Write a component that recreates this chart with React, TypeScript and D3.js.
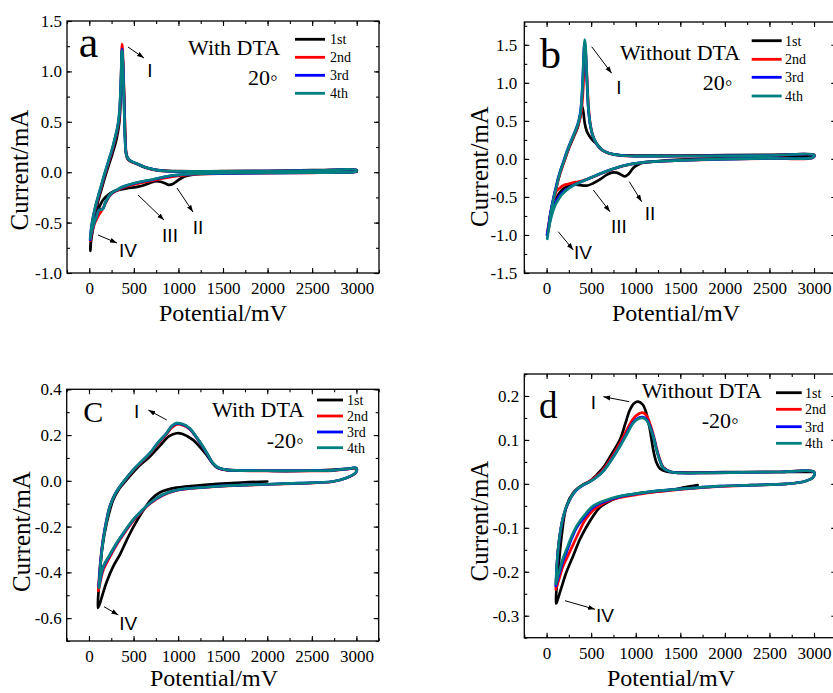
import React, { useEffect, useRef } from 'react';
import * as d3 from 'd3';

type Pt = [number, number];

const cycleNames = ['1st', '2nd', '3rd', '4th'];
const cycleColors = ['#000000', '#ff0000', '#0000ff', '#008080'];

const xTicks = [0, 500, 1000, 1500, 2000, 2500, 3000];
const aYTicks = [-1.0, -0.5, 0.0, 0.5, 1.0, 1.5];
const bYTicks = [-1.5, -1.0, -0.5, 0.0, 0.5, 1.0, 1.5];
const cYTicks = [-0.6, -0.4, -0.2, 0.0, 0.2, 0.4];
const dYTicks = [-0.3, -0.2, -0.1, 0.0, 0.1, 0.2];

// panel a: with DTA, 20°  [potential mV, current mA]
const a1st: Pt[] = [
    [3000, 0.005], [2500, 0.0], [2000, -0.004], [1500, -0.01], [1200, -0.02], [1100, -0.035], [1040, -0.055],
    [980, -0.09], [930, -0.12], [890, -0.125], [850, -0.11], [800, -0.095], [750, -0.09], [700, -0.1], [640, -0.12],
    [571, -0.14], [500, -0.15], [422, -0.16], [330, -0.175], [250, -0.2], [190, -0.24], [150, -0.28], [110, -0.35],
    [70, -0.45], [40, -0.57], [20, -0.68], [12, -0.78],
    [15, -0.7], [45, -0.5], [90, -0.32], [140, -0.16], [200, 0.02], [255, 0.17], [303, 0.32], [335, 0.48], [350, 0.68],
    [360, 0.95], [366, 1.2], [373, 1.15], [385, 0.9], [395, 0.6], [403, 0.35], [410, 0.2], [430, 0.13], [480, 0.1],
    [534, 0.085], [600, 0.055], [700, 0.03], [800, 0.018], [1000, 0.01], [1500, 0.01], [2000, 0.012], [2500, 0.02], [3000, 0.02],
];
const a2nd: Pt[] = [
    [12, -0.68], [25, -0.56], [41, -0.47], [63, -0.38], [86, -0.3], [111, -0.22], [137, -0.14], [166, -0.05], [196, 0.04],
    [224, 0.12], [249, 0.19], [274, 0.27], [297, 0.35], [317, 0.43], [333, 0.51], [345, 0.64], [354, 0.85], [361, 1.08],
    [366, 1.27], [371, 1.25], [378, 1.12], [387, 0.88], [396, 0.58], [404, 0.34], [412, 0.21], [424, 0.15], [455, 0.115],
    [495, 0.095], [540, 0.08], [600, 0.058], [680, 0.033], [760, 0.018], [850, 0.01], [1000, 0.007], [1250, 0.007],
    [1500, 0.008], [2000, 0.011], [2500, 0.015], [3000, 0.019],
    [2985, 0.003], [2800, -0.003], [2500, -0.006], [2000, -0.009], [1500, -0.013], [1250, -0.018], [1094, -0.027],
    [950, -0.042], [820, -0.062], [720, -0.082], [600, -0.102], [500, -0.122], [422, -0.14], [360, -0.16], [310, -0.183],
    [260, -0.208], [225, -0.24], [198, -0.28], [170, -0.33], [140, -0.38], [110, -0.42], [85, -0.46], [60, -0.51],
    [40, -0.56], [22, -0.62], [12, -0.68],
];
const a3rd: Pt[] = [
    [10, -0.67], [22, -0.56], [37, -0.475], [58, -0.385], [80, -0.305], [105, -0.225], [131, -0.145], [160, -0.055],
    [190, 0.035], [218, 0.115], [243, 0.185], [268, 0.265], [291, 0.345], [312, 0.425], [329, 0.51], [341, 0.62],
    [351, 0.8], [359, 1.0], [365, 1.2], [370, 1.22], [376, 1.12], [384, 0.9], [393, 0.6], [401, 0.35], [409, 0.22],
    [421, 0.16], [450, 0.12], [490, 0.1], [534, 0.085], [600, 0.06], [680, 0.035], [760, 0.02], [850, 0.012],
    [1000, 0.008], [1250, 0.008], [1500, 0.009], [2000, 0.012], [2500, 0.016], [3000, 0.02],
    [2985, 0.004], [2800, -0.002], [2500, -0.005], [2000, -0.008], [1500, -0.011], [1250, -0.015], [1094, -0.021],
    [950, -0.032], [820, -0.052], [720, -0.072], [600, -0.092], [500, -0.112], [422, -0.132], [360, -0.152],
    [310, -0.177], [260, -0.202], [225, -0.232], [198, -0.272], [175, -0.312], [160, -0.352], [140, -0.368],
    [120, -0.37], [104, -0.38], [85, -0.43], [60, -0.49], [40, -0.545], [22, -0.6], [10, -0.67],
];
const a4th: Pt[] = [
    [10, -0.66], [22, -0.56], [37, -0.47], [58, -0.38], [80, -0.3], [105, -0.22], [131, -0.14], [160, -0.05], [190, 0.04],
    [218, 0.12], [243, 0.19], [268, 0.27], [291, 0.35], [312, 0.43], [328, 0.51], [340, 0.62], [350, 0.8], [358, 1.0],
    [364, 1.19], [369, 1.21], [375, 1.12], [383, 0.9], [392, 0.6], [400, 0.35], [408, 0.22], [420, 0.16], [450, 0.12],
    [490, 0.1], [534, 0.085], [600, 0.06], [680, 0.035], [760, 0.02], [850, 0.012], [1000, 0.008], [1250, 0.008],
    [1500, 0.009], [2000, 0.012], [2500, 0.016], [3000, 0.02],
    [2985, 0.004], [2800, -0.002], [2500, -0.005], [2000, -0.007], [1500, -0.01], [1250, -0.014], [1094, -0.02],
    [950, -0.03], [820, -0.05], [720, -0.07], [600, -0.09], [500, -0.11], [422, -0.13], [360, -0.15], [310, -0.175],
    [260, -0.2], [225, -0.23], [198, -0.27], [175, -0.31], [160, -0.355], [140, -0.37], [120, -0.372], [104, -0.38],
    [85, -0.43], [60, -0.49], [40, -0.54], [22, -0.6], [10, -0.66],
];

// panel b: without DTA, 20°
const b1st: Pt[] = [
    [3000, 0.03], [2500, 0.02], [2000, 0.01], [1500, -0.01], [1200, -0.035], [1084, -0.05], [1020, -0.08], [972, -0.12],
    [920, -0.2], [879, -0.23], [840, -0.21], [785, -0.18], [730, -0.18], [673, -0.21], [600, -0.27], [523, -0.32],
    [460, -0.35], [411, -0.35], [330, -0.34], [262, -0.35], [200, -0.38], [149, -0.44], [110, -0.52], [74, -0.62],
    [40, -0.8], [15, -0.97],
    [40, -0.75], [80, -0.52], [120, -0.32], [160, -0.15], [200, -0.02], [250, 0.14], [300, 0.28], [350, 0.42],
    [380, 0.57], [398, 0.69], [412, 0.62], [428, 0.47], [449, 0.37], [480, 0.3], [520, 0.24], [561, 0.2], [620, 0.12],
    [700, 0.075], [822, 0.05], [1000, 0.045], [1500, 0.045], [2000, 0.05], [2500, 0.055], [3000, 0.055],
];
const b2nd: Pt[] = [
    [6, -1.0], [20, -0.9], [38, -0.76], [57, -0.64], [77, -0.53], [98, -0.43], [116, -0.35], [135, -0.26], [155, -0.18],
    [192, -0.05], [245, 0.13], [304, 0.3], [356, 0.45], [387, 0.6], [405, 0.82], [418, 1.1], [427, 1.35], [432, 1.45],
    [439, 1.38], [450, 1.15], [461, 0.88], [473, 0.64], [493, 0.44], [518, 0.31], [564, 0.19], [622, 0.115], [700, 0.072],
    [822, 0.046], [1000, 0.036], [1500, 0.037], [2000, 0.04], [2500, 0.044], [3000, 0.05],
    [2990, 0.018], [2500, 0.006], [2000, -0.004], [1500, -0.02], [1270, -0.032], [1084, -0.047], [960, -0.067],
    [860, -0.092], [750, -0.132], [635, -0.182], [520, -0.237], [411, -0.285], [350, -0.3], [299, -0.31], [240, -0.33],
    [187, -0.35], [140, -0.39], [112, -0.42], [90, -0.5], [65, -0.62], [40, -0.76], [18, -0.9], [6, -1.0],
];
const b3rd: Pt[] = [
    [5, -1.0], [18, -0.92], [35, -0.78], [53, -0.65], [72, -0.54], [93, -0.43], [110, -0.35], [128, -0.26], [148, -0.18],
    [185, -0.05], [238, 0.13], [297, 0.3], [348, 0.45], [378, 0.6], [397, 0.85], [409, 1.15], [419, 1.43], [427, 1.53],
    [435, 1.46], [446, 1.2], [457, 0.9], [469, 0.65], [489, 0.45], [514, 0.32], [560, 0.2], [620, 0.12], [700, 0.075],
    [822, 0.048], [1000, 0.037], [1500, 0.038], [2000, 0.04], [2500, 0.045], [3000, 0.05],
    [2990, 0.02], [2500, 0.008], [2000, -0.003], [1500, -0.019], [1270, -0.031], [1084, -0.046], [960, -0.066],
    [860, -0.09], [750, -0.13], [635, -0.18], [520, -0.235], [411, -0.29], [300, -0.345], [224, -0.4], [170, -0.45],
    [130, -0.51], [100, -0.57], [74, -0.64], [45, -0.76], [20, -0.9], [5, -1.0],
];
const b4th: Pt[] = [
    [8, -1.05], [20, -0.95], [37, -0.8], [55, -0.66], [74, -0.55], [95, -0.44], [112, -0.36], [130, -0.27], [150, -0.18],
    [187, -0.05], [240, 0.13], [299, 0.3], [350, 0.45], [380, 0.6], [398, 0.85], [410, 1.15], [420, 1.45], [428, 1.57],
    [436, 1.5], [447, 1.22], [458, 0.92], [470, 0.66], [490, 0.45], [515, 0.32], [561, 0.2], [620, 0.12], [700, 0.075],
    [822, 0.048], [1000, 0.037], [1500, 0.038], [2000, 0.04], [2500, 0.045], [3000, 0.05],
    [2990, 0.02], [2500, 0.008], [2000, -0.002], [1500, -0.018], [1270, -0.03], [1084, -0.045], [960, -0.065],
    [860, -0.09], [750, -0.13], [635, -0.18], [520, -0.235], [411, -0.29], [300, -0.35], [224, -0.41], [170, -0.47],
    [130, -0.54], [100, -0.6], [74, -0.68], [45, -0.8], [20, -0.95], [8, -1.05],
];

// panel c: with DTA, -20°
const c1st: Pt[] = [
    [2000, -0.003], [1600, -0.01], [1300, -0.018], [982, -0.03], [800, -0.05], [700, -0.08], [608, -0.13], [500, -0.2],
    [422, -0.26], [350, -0.32], [272, -0.374], [200, -0.44], [150, -0.5], [123, -0.535], [100, -0.555],
    [112, -0.46], [123, -0.4], [150, -0.29], [198, -0.185], [272, -0.083], [340, -0.035], [422, 0.004], [550, 0.06],
    [683, 0.106], [800, 0.155], [900, 0.195], [982, 0.208], [1050, 0.205], [1167, 0.179], [1250, 0.145], [1317, 0.114],
    [1380, 0.08], [1428, 0.06], [1500, 0.05], [1700, 0.045], [2000, 0.044], [2500, 0.045], [3000, 0.055],
];
const c2nd: Pt[] = [
    [105, -0.48], [125, -0.37], [156, -0.262], [196, -0.174], [231, -0.116], [286, -0.064], [344, -0.028], [418, 0.009],
    [494, 0.045], [590, 0.082], [683, 0.118], [780, 0.165], [870, 0.203], [930, 0.233], [985, 0.247], [1050, 0.243],
    [1130, 0.226], [1200, 0.192], [1280, 0.147], [1342, 0.107], [1393, 0.075], [1452, 0.056], [1540, 0.047],
    [1700, 0.044], [1980, 0.043], [2400, 0.043], [2730, 0.045], [2900, 0.051], [2990, 0.056], [3005, 0.049],
    [2990, 0.034], [2900, 0.014], [2733, -0.004], [2360, -0.011], [2000, -0.016], [1616, -0.021], [1300, -0.029],
    [982, -0.042], [820, -0.065], [683, -0.1], [580, -0.139], [496, -0.175], [400, -0.227], [310, -0.28], [230, -0.336],
    [160, -0.39], [125, -0.445], [105, -0.48],
];
const c3rd: Pt[] = [
    [110, -0.46], [128, -0.36], [158, -0.258], [198, -0.17], [233, -0.113], [288, -0.061], [345, -0.026], [418, 0.011],
    [494, 0.047], [588, 0.084], [681, 0.12], [778, 0.168], [868, 0.206], [928, 0.238], [980, 0.25], [1050, 0.246],
    [1130, 0.228], [1200, 0.193], [1279, 0.148], [1340, 0.108], [1391, 0.076], [1450, 0.057], [1540, 0.048],
    [1700, 0.045], [1980, 0.044], [2400, 0.044], [2730, 0.046], [2900, 0.052], [2990, 0.057], [3005, 0.05],
    [2990, 0.035], [2900, 0.015], [2733, -0.003], [2360, -0.01], [2000, -0.015], [1616, -0.02], [1300, -0.028],
    [982, -0.041], [820, -0.063], [683, -0.098], [580, -0.136], [496, -0.171], [400, -0.222], [310, -0.274],
    [230, -0.328], [160, -0.378], [125, -0.435], [110, -0.46],
];
const c4th: Pt[] = [
    [112, -0.467], [130, -0.36], [160, -0.257], [200, -0.17], [235, -0.112], [290, -0.06], [347, -0.025], [420, 0.012],
    [496, 0.048], [590, 0.085], [683, 0.121], [780, 0.17], [870, 0.208], [930, 0.24], [982, 0.252], [1050, 0.248],
    [1130, 0.23], [1200, 0.195], [1279, 0.15], [1340, 0.11], [1391, 0.077], [1450, 0.058], [1540, 0.048],
    [1700, 0.045], [1980, 0.044], [2400, 0.044], [2730, 0.046], [2900, 0.052], [2990, 0.057], [3005, 0.05],
    [2990, 0.035], [2900, 0.015], [2733, -0.003], [2360, -0.01], [2000, -0.015], [1616, -0.02], [1300, -0.028],
    [982, -0.04], [820, -0.062], [683, -0.097], [580, -0.135], [496, -0.17], [400, -0.22], [310, -0.272],
    [230, -0.325], [160, -0.374], [125, -0.43], [112, -0.467],
];

// panel d: without DTA, -20°
const d1st: Pt[] = [
    [1694, -0.003], [1550, -0.008], [1421, -0.013], [1200, -0.018], [1010, -0.022], [820, -0.03], [673, -0.043],
    [590, -0.055], [523, -0.073], [450, -0.097], [374, -0.126], [300, -0.163], [224, -0.2], [160, -0.24], [112, -0.27],
    [105, -0.272],
    [115, -0.23], [130, -0.2], [165, -0.125], [224, -0.05], [300, -0.02], [400, -0.003], [485, 0.006], [560, 0.02],
    [640, 0.038], [730, 0.068], [822, 0.1], [880, 0.135], [934, 0.168], [980, 0.183], [1027, 0.187], [1080, 0.18],
    [1120, 0.16], [1158, 0.125], [1196, 0.078], [1230, 0.05], [1270, 0.035], [1350, 0.028], [1500, 0.026],
    [2000, 0.027], [2500, 0.027], [3000, 0.027],
];
const d2nd: Pt[] = [
    [104, -0.24], [118, -0.18], [140, -0.13], [178, -0.083], [222, -0.053], [278, -0.029], [334, -0.013], [408, -0.002],
    [483, 0.006], [558, 0.017], [633, 0.032], [730, 0.06], [822, 0.092], [900, 0.123], [971, 0.148], [1030, 0.159],
    [1076, 0.162], [1120, 0.156], [1158, 0.138], [1200, 0.11], [1233, 0.082], [1270, 0.056], [1308, 0.038],
    [1400, 0.027], [1495, 0.025], [1800, 0.025], [2200, 0.026], [2600, 0.027], [3000, 0.027],
    [2990, 0.015], [2900, 0.006], [2690, 0.0], [2300, -0.003], [1943, -0.006], [1600, -0.011], [1196, -0.019],
    [1000, -0.025], [822, -0.031], [673, -0.041], [523, -0.06], [430, -0.083], [374, -0.105], [300, -0.137],
    [224, -0.17], [180, -0.19], [150, -0.21], [120, -0.23], [104, -0.24],
];
const d3rd: Pt[] = [
    [104, -0.232], [120, -0.172], [142, -0.127], [180, -0.081], [224, -0.052], [280, -0.029], [336, -0.014],
    [410, -0.003], [485, 0.005], [560, 0.015], [635, 0.029], [730, 0.056], [822, 0.086], [900, 0.115], [971, 0.14],
    [1030, 0.15], [1076, 0.152], [1120, 0.147], [1158, 0.132], [1200, 0.107], [1233, 0.079], [1270, 0.054],
    [1308, 0.037], [1400, 0.027], [1495, 0.025], [1800, 0.025], [2200, 0.026], [2600, 0.027], [3000, 0.027],
    [2990, 0.015], [2900, 0.006], [2690, 0.0], [2300, -0.003], [1943, -0.005], [1600, -0.01], [1196, -0.017],
    [1000, -0.023], [822, -0.029], [680, -0.038], [523, -0.053], [430, -0.074], [336, -0.1], [280, -0.125],
    [224, -0.155], [180, -0.178], [149, -0.2], [120, -0.22], [104, -0.232],
];
const d4th: Pt[] = [
    [104, -0.228], [120, -0.17], [142, -0.126], [180, -0.08], [224, -0.051], [280, -0.028], [336, -0.013],
    [410, -0.002], [485, 0.005], [560, 0.015], [635, 0.029], [730, 0.055], [822, 0.085], [900, 0.113], [971, 0.138],
    [1030, 0.148], [1076, 0.15], [1120, 0.145], [1158, 0.13], [1200, 0.105], [1233, 0.078], [1270, 0.053],
    [1308, 0.036], [1400, 0.027], [1495, 0.025], [1800, 0.025], [2200, 0.026], [2600, 0.027], [3000, 0.027],
    [2990, 0.015], [2900, 0.006], [2690, 0.0], [2300, -0.003], [1943, -0.005], [1600, -0.01], [1196, -0.017],
    [1000, -0.022], [822, -0.028], [680, -0.036], [523, -0.05], [430, -0.07], [336, -0.096], [280, -0.12],
    [224, -0.149], [180, -0.172], [149, -0.194], [120, -0.215], [104, -0.228],
];

const SERIF = '"Liberation Serif", "Times New Roman", serif';
const SANS = '"Liberation Sans", Arial, sans-serif';

// layout of the four panels; note positions are relative to each frame's top-left corner
const panels = [
    {
        id: 'a', box: [67, 21, 312, 252], yDomain: [-1.0, 1.5], yTicks: aYTicks, yMinor: 0.25, yPad: 5,
        cycles: [a1st, a2nd, a3rd, a4th],
        letter: 'a', letterSize: 44, letterAt: [21.5, 36],
        cond: 'With DTA', condAt: [121, 34], temp: '20\u25e6', tempAt: [181, 64],
        legendAt: { x1: 228, x2: 258, lx: 263, ys: [18.3, 36.3, 54.3, 72.3] },
        arrows: [
            { from: [61, 26], to: [77, 37], label: 'I', at: [83, 56] },
            { from: [110, 167], to: [126, 191], label: 'II', at: [131, 213] },
            { from: [71, 174], to: [97, 199], label: 'III', at: [103, 221] },
            { from: [31, 214], to: [50, 222], label: 'IV', at: [61, 236] },
        ],
        yTitleAt: [28, 170], xTitleAt: [223, 321],
    },
    {
        id: 'b', box: [524.3, 22, 312, 251], yDomain: [-1.5, 1.8], yTicks: bYTicks, yMinor: 0.25, yPad: 7,
        cycles: [b1st, b2nd, b3rd, b4th],
        letter: 'b', letterSize: 42, letterAt: [26.2, 46],
        cond: 'Without DTA', condAt: [95.7, 38], temp: '20\u25e6', tempAt: [178.4, 68],
        legendAt: { x1: 227.4, x2: 257.4, lx: 260.7, ys: [18.7, 37.3, 55.3, 74] },
        arrows: [
            { from: [67.4, 24.7], to: [87.4, 51.3], label: 'I', at: [94.7, 72.3] },
            { from: [105, 159.7], to: [117.4, 179.7], label: 'II', at: [125.7, 198] },
            { from: [69, 168], to: [85.7, 189.7], label: 'III', at: [94.7, 211.3] },
            { from: [34, 209.7], to: [49, 228], label: 'IV', at: [58.7, 237.3] },
        ],
        yTitleAt: [488, 166.5], xTitleAt: [676, 321],
    },
    {
        id: 'c', box: [66.7, 389.3, 312, 251.7], yDomain: [-0.7, 0.4], yTicks: cYTicks, yMinor: 0.1, yPad: 5,
        cycles: [c1st, c2nd, c3rd, c4th],
        letter: 'C', letterSize: 30, letterAt: [26.6, 32.4],
        cond: 'With DTA', condAt: [145.3, 28], temp: '-20\u25e6', tempAt: [200, 59],
        legendAt: { x1: 250.3, x2: 276.3, lx: 280.3, ys: [10.7, 26.7, 42.7, 58.4] },
        arrows: [
            { from: [100, 30.7], to: [81.6, 20.7], label: 'I', at: [70, 29] },
            { from: [37.3, 217.4], to: [51.6, 225.7], label: 'IV', at: [61.6, 240.7] },
        ],
        yTitleAt: [30, 531.5], xTitleAt: [214, 686],
    },
    {
        id: 'd', box: [524.3, 374, 312, 263.7], yDomain: [-0.35, 0.25], yTicks: dYTicks, yMinor: 0.05, yPad: 5,
        cycles: [d1st, d2nd, d3rd, d4th],
        letter: 'd', letterSize: 37, letterAt: [24, 44.3],
        cond: 'Without DTA', condAt: [117.4, 24.3], temp: '-20\u25e6', tempAt: [177.4, 54.3],
        legendAt: { x1: 251.7, x2: 277.4, lx: 280.7, ys: [18.7, 35.3, 52.7, 69.3] },
        arrows: [
            { from: [105, 27.7], to: [79, 22.7], label: 'I', at: [69, 35] },
            { from: [40.7, 226.7], to: [70.7, 235.3], label: 'IV', at: [80.7, 247.7] },
        ],
        yTitleAt: [488, 521], xTitleAt: [671, 686],
    },
];

function drawPanel(svg: any, p: any) {
    const [left, top, w, h] = p.box;
    const x = d3.scaleLinear().domain([-250, 3250]).range([left, left + w]);
    const y = d3.scaleLinear().domain(p.yDomain).range([top + h, top]);
    const g = svg.append('g');

    g.append('clipPath').attr('id', 'clip-' + p.id)
        .append('rect').attr('x', left).attr('y', top).attr('width', w).attr('height', h);

    const line = d3.line<Pt>()
        .x((d) => x(d[0]))
        .y((d) => y(d[1]))
        .curve(d3.curveCatmullRom.alpha(0.5));

    const curves = g.append('g').attr('clip-path', 'url(#clip-' + p.id + ')');
    p.cycles.forEach((c: Pt[], i: number) => {
        curves.append('path')
            .attr('d', line(c))
            .attr('fill', 'none')
            .attr('stroke', cycleColors[i])
            .attr('stroke-width', 2.7)
            .attr('stroke-linejoin', 'round')
            .attr('stroke-linecap', 'round');
    });

    // axes, ticks pointing inwards on all four sides
    const xMinor = d3.range(-250, 3251, 250);
    const [y0, y1] = p.yDomain;
    const yMinor = d3.range(Math.ceil(y0 / p.yMinor - 1e-6) * p.yMinor, y1 + 1e-6, p.yMinor);
    const fmtY = (d: any) => (+d).toFixed(1);

    const styleAxis = (sel: any) => {
        sel.select('.domain').remove();
        sel.selectAll('line').attr('stroke', '#000').attr('stroke-width', 1.1);
        sel.selectAll('text').attr('font-family', SERIF).attr('font-size', 17).attr('fill', '#000');
    };

    g.append('g').attr('transform', `translate(0,${top + h})`)
        .call(d3.axisBottom(x).tickValues(xMinor).tickSize(-3).tickFormat(() => '')).call(styleAxis);
    g.append('g').attr('transform', `translate(0,${top + h})`)
        .call(d3.axisBottom(x).tickValues(xTicks).tickSize(-5).tickPadding(9).tickFormat((d: any) => String(d)))
        .call(styleAxis);
    g.append('g').attr('transform', `translate(0,${top})`)
        .call(d3.axisTop(x).tickValues(xMinor).tickSize(-3).tickFormat(() => '')).call(styleAxis);
    g.append('g').attr('transform', `translate(0,${top})`)
        .call(d3.axisTop(x).tickValues(xTicks).tickSize(-5).tickFormat(() => '')).call(styleAxis);
    g.append('g').attr('transform', `translate(${left},0)`)
        .call(d3.axisLeft(y).tickValues(yMinor).tickSize(-3).tickFormat(() => '')).call(styleAxis);
    g.append('g').attr('transform', `translate(${left},0)`)
        .call(d3.axisLeft(y).tickValues(p.yTicks).tickSize(-5).tickPadding(p.yPad).tickFormat(fmtY)).call(styleAxis);
    g.append('g').attr('transform', `translate(${left + w},0)`)
        .call(d3.axisRight(y).tickValues(yMinor).tickSize(-3).tickFormat(() => '')).call(styleAxis);
    g.append('g').attr('transform', `translate(${left + w},0)`)
        .call(d3.axisRight(y).tickValues(p.yTicks).tickSize(-5).tickFormat(() => '')).call(styleAxis);

    g.append('rect')
        .attr('x', left).attr('y', top).attr('width', w).attr('height', h)
        .attr('fill', 'none').attr('stroke', '#000').attr('stroke-width', 1.3);

    // axis titles
    g.append('text')
        .attr('transform', `translate(${p.yTitleAt[0]},${p.yTitleAt[1]}) rotate(-90)`)
        .attr('text-anchor', 'middle').attr('font-family', SERIF).attr('font-size', 25)
        .text('Current/mA');
    g.append('text')
        .attr('x', p.xTitleAt[0]).attr('y', p.xTitleAt[1])
        .attr('text-anchor', 'middle').attr('font-family', SERIF).attr('font-size', 24)
        .text('Potential/mV');

    // annotations
    const note = g.append('g').attr('transform', `translate(${left},${top})`);
    note.append('text').attr('x', p.letterAt[0]).attr('y', p.letterAt[1])
        .attr('text-anchor', 'middle').attr('font-family', SERIF).attr('font-size', p.letterSize)
        .text(p.letter);
    note.append('text').attr('x', p.condAt[0]).attr('y', p.condAt[1])
        .attr('font-family', SERIF).attr('font-size', 22).text(p.cond);
    note.append('text').attr('x', p.tempAt[0]).attr('y', p.tempAt[1])
        .attr('font-family', SERIF).attr('font-size', 22).text(p.temp);

    const lg = p.legendAt;
    cycleNames.forEach((name, i) => {
        note.append('line')
            .attr('x1', lg.x1).attr('x2', lg.x2).attr('y1', lg.ys[i]).attr('y2', lg.ys[i])
            .attr('stroke', cycleColors[i]).attr('stroke-width', 2.8);
        note.append('text')
            .attr('x', lg.lx).attr('y', lg.ys[i] + 5)
            .attr('font-family', SERIF).attr('font-size', 14).text(name);
    });

    p.arrows.forEach((a: any) => {
        note.append('line')
            .attr('x1', a.from[0]).attr('y1', a.from[1]).attr('x2', a.to[0]).attr('y2', a.to[1])
            .attr('stroke', '#000').attr('stroke-width', 1)
            .attr('marker-end', 'url(#arrowhead)');
        note.append('text').attr('x', a.at[0]).attr('y', a.at[1])
            .attr('text-anchor', 'middle').attr('font-family', SANS).attr('font-size', 19)
            .text(a.label);
    });
}

export default function App() {
    const svgRef = useRef<SVGSVGElement>(null);

    useEffect(() => {
        const svg = d3.select(svgRef.current);
        svg.selectAll('*').remove();
        svg.append('defs').append('marker')
            .attr('id', 'arrowhead')
            .attr('viewBox', '0 0 10 10')
            .attr('refX', 10).attr('refY', 5)
            .attr('markerWidth', 7).attr('markerHeight', 7)
            .attr('markerUnits', 'userSpaceOnUse')
            .attr('orient', 'auto')
            .append('path').attr('d', 'M0,1.5 L10,5 L0,8.5 Z').attr('fill', '#000');
        panels.forEach((p) => drawPanel(svg, p));
    }, []);

    return (
        <svg
            ref={svgRef}
            width={833}
            height={693}
            style={{ position: 'absolute', left: 0, top: 0, background: '#fff' }}
        />
    );
}
